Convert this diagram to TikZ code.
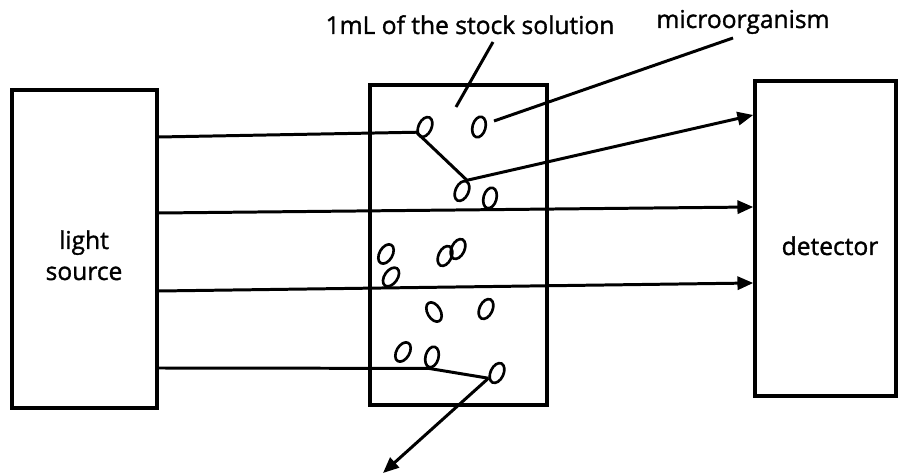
\documentclass[tikz,border=0pt]{standalone}
\usepackage{fontspec}
\setmainfont{Open Sans}
\newfontfamily\lblfont{Open Sans}[FakeBold=1.3]
\usetikzlibrary{arrows.meta,shapes.geometric}
\begin{document}
\begin{tikzpicture}[x=0.02cm,y=-0.02cm,
  box/.style={draw,rectangle,inner sep=0pt,line width=2pt},
  cell/.style={draw,ellipse,inner sep=0pt,minimum width=0.26cm,minimum height=0.42cm,line width=1.5pt},
  lbl/.style={font=\lblfont\fontsize{14}{17}\selectfont,inner sep=0pt,anchor=base},
  beam/.style={line width=1.7pt},
  arr/.style={-{Triangle[length=9pt,width=7.5pt]}}]
\useasboundingbox (0,0) rectangle (899,475);
% boxes
\node[box,minimum width=2.9cm,minimum height=6.36cm] (ls) at (84.5,249) {};
\node[box,minimum width=3.54cm,minimum height=6.4cm] (cu) at (458.5,245) {};
\node[box,minimum width=2.82cm,minimum height=6.3cm] (det) at (825.5,238.5) {};
% texts
\node[lbl] (lsa) at (84,249) {light};
\node[lbl] (lsb) at (84,280) {source};
\node[lbl] (dett) at (830,255) {detector};
\node[lbl] (t1) at (470,34) {1mL of the stock solution};
\node[lbl] (t2) at (743,28) {microorganism};
% particles
\node[cell,rotate=-25] (p1) at (425,127) {};
\node[cell,rotate=-15] (p2) at (479,127) {};
\node[cell,rotate=-25] (p3) at (462,191) {};
\node[cell,rotate=-15] (p4) at (490,198) {};
\node[cell,rotate=-30] (p5) at (386,254) {};
\node[cell,rotate=-35] (p6) at (391,277) {};
\node[cell,rotate=-25] (p7) at (445,256) {};
\node[cell,rotate=-25] (p8) at (458,249) {};
\node[cell,rotate=30] (p9) at (434,312) {};
\node[cell,rotate=-25] (p10) at (486,309) {};
\node[cell,rotate=-30] (p11) at (403,352) {};
\node[cell,rotate=-15] (p12) at (432,357) {};
\node[cell,rotate=-25] (p13) at (497,373) {};
% pointer ends
\coordinate (q1) at (493,42);
\coordinate (q2) at (456,107);
\coordinate (q3) at (733,38);
\coordinate (q4) at (494,121);
\coordinate (q5) at (383,473);
% pointers
\draw[beam] (q1) -- (q2);
\draw[beam] (q3) -- (q4);
% beams
\draw[beam,arr] (ls.east |- 0,137) -- (p1.south west) -- (p3.north) -- (det.west |- 0,115);
\draw[beam,arr] (ls.east |- 0,213) -- (det.west |- 0,207);
\draw[beam,arr] (ls.east |- 0,291) -- (det.west |- 0,283);
\draw[beam] (ls.east |- 0,368) -- (p12.south) -- (p13.south west);
\draw[beam,arr] (p13.south west) -- (q5);
\end{tikzpicture}
\end{document}
